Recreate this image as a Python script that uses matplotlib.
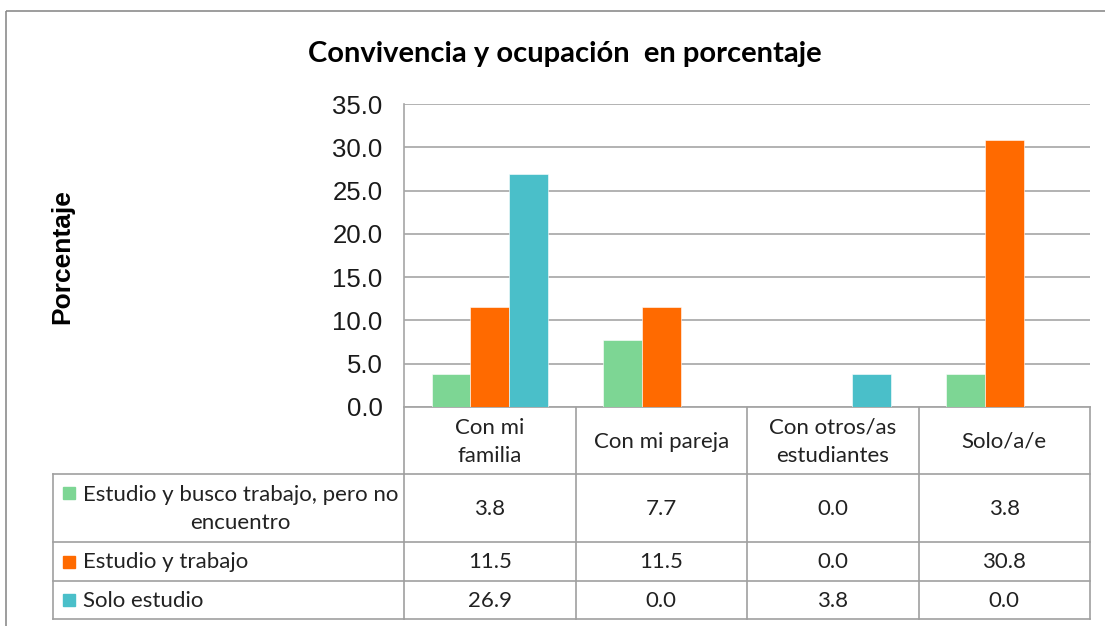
import matplotlib
matplotlib.use("Agg")
import matplotlib.pyplot as plt
import matplotlib.transforms as mtransforms
from matplotlib.patches import Rectangle
import numpy as np

# ---- data ----
categories = ["Con mi\nfamilia", "Con mi pareja", "Con otros/as\nestudiantes", "Solo/a/e"]
series_names = ["Estudio y busco trabajo, pero no\nencuentro", "Estudio y trabajo", "Solo estudio"]
busco = [3.8, 7.7, 0.0, 3.8]
trabajo = [11.5, 11.5, 0.0, 30.8]
solo_estudio = [26.9, 0.0, 3.8, 0.0]
series_values = [busco, trabajo, solo_estudio]
colors = ["#7DD694", "#FF6A00", "#4ABFC9"]
yticks = [0, 5, 10, 15, 20, 25, 30, 35]
title = "Convivencia y ocupación  en porcentaje"
ylabel = "Porcentaje"

W, H = 1105, 626
fig = plt.figure(figsize=(W / 100, H / 100), dpi=100)
fig.patch.set_facecolor("white")

# overlay axes in pixel coordinates
ov = fig.add_axes([0, 0, 1, 1], zorder=0)
ov.set_xlim(0, W)
ov.set_ylim(H, 0)
ov.axis("off")

def px_axes(l, t, r, b):
    return [l / W, 1 - b / H, (r - l) / W, (b - t) / H]

ax = fig.add_axes(px_axes(404, 104, 1090, 407), zorder=1)
ax.patch.set_alpha(0)

grid_c = "#A6A6A6"
cat_font = "Lato"
n = len(series_values)
bw = 0.225
x = np.arange(len(categories))
for i, (vals, c) in enumerate(zip(series_values, colors)):
    ax.bar(x + (i - (n - 1) / 2) * bw, vals, width=bw, color=c,
           edgecolor="white", linewidth=0.4, zorder=3)

ax.set_xlim(-0.5, len(categories) - 0.5)
ax.set_ylim(0, 35)
ax.set_yticks(yticks)
ax.set_yticklabels([f"{v:.1f}" for v in yticks], fontsize=18.5,
                   family="Liberation Sans", color="#1a1a1a")
ax.tick_params(axis="y", length=0, pad=15.5)
ax.set_xticks([])
ax.yaxis.grid(True, color=grid_c, linewidth=1.2, zorder=0)
for s in ["top", "right", "bottom"]:
    ax.spines[s].set_visible(False)
ax.spines["left"].set_color(grid_c)
ax.spines["left"].set_linewidth(1.2)

# outer frame
ov.add_patch(Rectangle((6, 11), 1120, 640, fill=False, edgecolor="#8C8C8C", linewidth=1.2))

# title and y label
ov.text(565, 62, title, ha="center", va="baseline", fontsize=21, fontweight="bold",
        family="Lato", color="black")
ov.text(62, 257, ylabel, ha="center", va="center", rotation=90, fontsize=19,
        fontweight="bold", family="Liberation Sans", color="black")

# data table
tr = mtransforms.blended_transform_factory(ax.transData, ov.transData)
row_y = [407, 474, 542, 581, 619]
left_tab = 53
edges = np.arange(len(categories) + 1) - 0.5
lc = "#A0A0A0"
lw = 1.2
for e in edges:
    ov.plot([e, e], [row_y[0], row_y[-1]], transform=tr, color=lc, lw=lw, zorder=2)
ov.plot([edges[0], edges[-1]], [row_y[0], row_y[0]], transform=tr, color=lc, lw=lw)
for yy in row_y[1:]:
    ov.plot([left_tab, 404], [yy, yy], color=lc, lw=lw)
    ov.plot([edges[0], edges[-1]], [yy, yy], transform=tr, color=lc, lw=lw)
ov.plot([left_tab, left_tab], [row_y[1], row_y[-1]], color=lc, lw=lw)

fs_tab = 16
tc = "#222222"
for j, cat in enumerate(categories):
    ov.text(x[j], (row_y[0] + row_y[1]) / 2 + 1, cat, transform=tr, ha="center", va="center",
            fontsize=fs_tab, family=cat_font, color=tc, linespacing=1.5)
for i, (name, vals, c) in enumerate(zip(series_names, series_values, colors)):
    ymid = (row_y[i + 1] + row_y[i + 2]) / 2
    sq_y = ymid - 6 if i > 0 else 487
    ov.add_patch(Rectangle((63, sq_y), 12, 12, color=c))
    ov.text(83, ymid + 1, name, ha="left", va="center", multialignment="center",
            fontsize=fs_tab, family=cat_font, color=tc, linespacing=1.55)
    for j, v in enumerate(vals):
        ov.text(x[j], ymid + 1, f"{v:.1f}", transform=tr, ha="center", va="center",
                fontsize=fs_tab, family=cat_font, color=tc)

fig.savefig("out.png", dpi=100, facecolor="white")
